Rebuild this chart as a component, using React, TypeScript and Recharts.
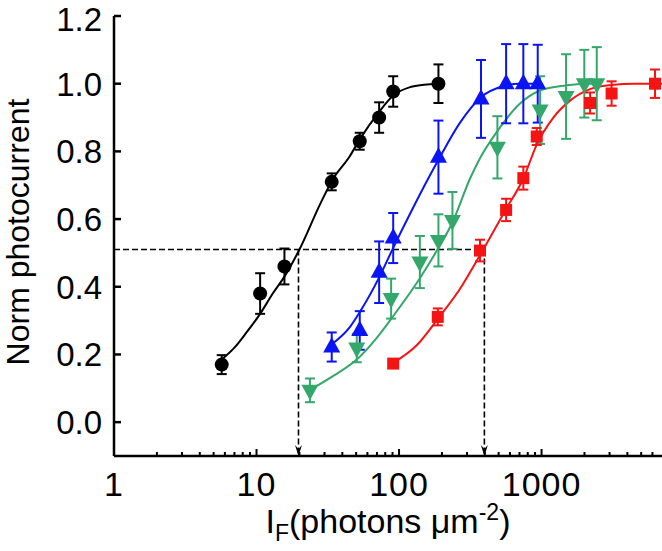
import { ComposedChart, Scatter, Line, XAxis, YAxis, ErrorBar, ReferenceLine, Label } from "recharts";

// measured points (x in photons/um2, y normalised photocurrent, sem)
const blackX = [5.7, 10.6, 15.7, 33.7, 53, 72.5, 91, 189];
const blackY = [0.17, 0.38, 0.46, 0.71, 0.83, 0.9, 0.977, 1.0];
const blackErr = [0.028, 0.06, 0.053, 0.025, 0.025, 0.045, 0.045, 0.057];

const blueX = [33.7, 53, 72.5, 91, 189, 376, 564, 745, 940];
const blueY = [0.222, 0.271, 0.443, 0.544, 0.783, 0.955, 1.0, 1.0, 1.0];
const blueErr = [0.043, 0.057, 0.091, 0.074, 0.108, 0.115, 0.117, 0.117, 0.115];

const greenX = [23.7, 50.5, 88, 140, 189, 237, 490, 977, 1486, 1995, 2440];
const greenY = [0.094, 0.219, 0.365, 0.473, 0.537, 0.596, 0.812, 0.922, 0.962, 1.0, 1.0];
const greenErr = [0.035, 0.042, 0.059, 0.077, 0.077, 0.084, 0.092, 0.1, 0.125, 0.1, 0.108];

const redX = [91, 187, 370, 564, 745, 925, 2190, 3100, 6250];
const redY = [0.173, 0.311, 0.507, 0.627, 0.721, 0.844, 0.943, 0.971, 1.0];
const redErr = [0.008, 0.025, 0.032, 0.033, 0.034, 0.025, 0.031, 0.036, 0.042];

// fitted curves
const blackFitX = [5.7, 7, 8.5, 10.6, 13, 15.7, 20, 28, 34, 45, 53, 72, 91, 120, 150, 190];
const blackFitY = [0.185, 0.22, 0.265, 0.32, 0.38, 0.43, 0.51, 0.645, 0.715, 0.785, 0.835, 0.915, 0.965, 0.99, 0.997, 1.0];

const blueFitX = [33.7, 45, 53, 73, 91, 126, 189, 268, 376, 540, 700, 940];
const blueFitY = [0.23, 0.28, 0.325, 0.43, 0.515, 0.635, 0.775, 0.885, 0.96, 0.993, 1.0, 1.0];

const greenFitX = [23.7, 35, 50.5, 70, 88, 140, 189, 237, 315, 370, 490, 700, 977, 1486, 2000, 2440];
const greenFitY = [0.095, 0.138, 0.185, 0.25, 0.305, 0.425, 0.515, 0.59, 0.72, 0.78, 0.86, 0.94, 0.98, 0.995, 1.0, 1.0];

const redFitX = [91, 133, 187, 268, 380, 564, 745, 925, 1210, 1585, 2190, 3100, 4500, 7000];
const redFitY = [0.175, 0.227, 0.305, 0.394, 0.502, 0.63, 0.72, 0.82, 0.9, 0.95, 0.984, 0.996, 1.0, 1.0];

// half-saturation guides
const halfY = 0.51;
const halfX = [19.7, 397];

const yTicks = [0, 0.2, 0.4, 0.6, 0.8, 1.0, 1.2];
const xMajor = [1, 10, 100, 1000];
const xMinor = [2, 3, 4, 5, 6, 7, 8, 9, 20, 30, 40, 50, 60, 70, 80, 90, 200, 300, 400, 500, 600, 700, 800, 900, 2000, 3000, 4000, 5000, 6000];

const BLACK = "#000000";
const BLUE = "#0a14f5";
const GREEN = "#33a86a";
const RED = "#f51414";
const FONT = "'Liberation Sans', Arial, sans-serif";

const pts = (xs: number[], ys: number[], es?: number[]) =>
  xs.map((x, i) => ({ x, y: ys[i], err: es ? es[i] : 0 }));

const circle = (p: any) => <circle cx={p.cx} cy={p.cy} r={7} fill={BLACK} />;
const triUp = (p: any) => (
  <polygon points={`${p.cx},${p.cy - 10} ${p.cx - 8.5},${p.cy + 5.5} ${p.cx + 8.5},${p.cy + 5.5}`} fill={BLUE} />
);
const triDown = (p: any) => (
  <polygon points={`${p.cx},${p.cy + 10} ${p.cx - 8.5},${p.cy - 5.5} ${p.cx + 8.5},${p.cy - 5.5}`} fill={GREEN} />
);
const square = (p: any) => <rect x={p.cx - 6} y={p.cy - 6} width={12} height={12} fill={RED} />;

const YTick = ({ x, y, payload }: any) => {
  // keep the top label inside the picture
  const shift = payload.value >= 1.2 ? 3 : 0;
  return (
    <g>
      <line x1={x} x2={x + 7} y1={y} y2={y} stroke={BLACK} strokeWidth={2.5} />
      <text x={x - 12} y={y + shift} dy="0.36em" textAnchor="end" fontSize={33} fontFamily={FONT} fill={BLACK}>
        {payload.value.toFixed(1)}
      </text>
    </g>
  );
};

const XTick = ({ x, y, payload }: any) => {
  const major = xMajor.includes(payload.value);
  return (
    <g>
      <line x1={x} x2={x} y1={y} y2={y - (major ? 7 : 4)} stroke={BLACK} strokeWidth={2} />
      {major && (
        <text x={x} y={y + 40} textAnchor="middle" fontSize={34} letterSpacing={1} fontFamily={FONT} fill={BLACK}>
          {payload.value}
        </text>
      )}
    </g>
  );
};

const arrowLine = (p: any) => (
  <g>
    <line x1={p.x1} y1={p.y1} x2={p.x2} y2={p.y2} stroke={BLACK} strokeWidth={1.6} strokeDasharray="6 3" />
    <polygon
      points={`${p.x2},${p.y2} ${p.x2 - 3.5},${p.y2 - 11} ${p.x2},${p.y2 - 7} ${p.x2 + 3.5},${p.y2 - 11}`}
      fill={BLACK}
    />
  </g>
);

export default function App() {
  return (
    <div style={{ position: "absolute", left: 0, top: 0, width: 662, height: 551, background: "#fff" }}>
      <ComposedChart width={662} height={551} margin={{ top: 16, right: 0, bottom: 0, left: 0 }}>
        <XAxis
          dataKey="x"
          type="number"
          scale="log"
          domain={[1, 7000]}
          allowDataOverflow
          ticks={[...xMajor, ...xMinor]}
          interval={0}
          tick={<XTick />}
          tickLine={false}
          tickSize={0}
          tickMargin={0}
          height={95}
          axisLine={{ stroke: BLACK, strokeWidth: 2.5 }}
        >
          <Label
            content={(props: any) => {
              const vb = props.viewBox;
              return (
                <text x={vb.x + vb.width / 2} y={vb.y + 77} textAnchor="middle" fontSize={34} fontFamily={FONT} fill={BLACK}>
                  <tspan>I</tspan>
                  <tspan dy={8} fontSize={23}>F</tspan>
                  <tspan dy={-8}>(photons μm</tspan>
                  <tspan dy={-13} fontSize={23}>-2</tspan>
                  <tspan dy={13}>)</tspan>
                </text>
              );
            }}
          />
        </XAxis>
        <YAxis
          dataKey="y"
          type="number"
          domain={[-0.1, 1.2]}
          allowDataOverflow
          ticks={yTicks}
          interval={0}
          tick={<YTick />}
          tickLine={false}
          tickSize={0}
          tickMargin={0}
          width={114}
          axisLine={{ stroke: BLACK, strokeWidth: 2.5 }}
        >
          <Label
            content={(props: any) => {
              const vb = props.viewBox;
              const cy = vb.y + vb.height / 2 - 4;
              return (
                <text x={17} y={cy} transform={`rotate(-90 17 ${cy})`} dy="0.36em" textAnchor="middle" fontSize={32} fontFamily={FONT} fill={BLACK}>
                  Norm photocurrent
                </text>
              );
            }}
          />
        </YAxis>

        <ReferenceLine
          segment={[{ x: 1, y: halfY }, { x: halfX[1], y: halfY }]}
          stroke={BLACK}
          strokeWidth={1.6}
          strokeDasharray="6 3"
        />
        {halfX.map((hx) => (
          <ReferenceLine key={hx} segment={[{ x: hx, y: halfY }, { x: hx, y: -0.1 }]} shape={arrowLine} />
        ))}

        <Line data={pts(blackFitX, blackFitY)} dataKey="y" type="monotone" stroke={BLACK} strokeWidth={2} dot={false} isAnimationActive={false} />
        <Line data={pts(blueFitX, blueFitY)} dataKey="y" type="monotone" stroke={BLUE} strokeWidth={2} dot={false} isAnimationActive={false} />
        <Line data={pts(greenFitX, greenFitY)} dataKey="y" type="monotone" stroke={GREEN} strokeWidth={2} dot={false} isAnimationActive={false} />
        <Line data={pts(redFitX, redFitY)} dataKey="y" type="monotone" stroke={RED} strokeWidth={2} dot={false} isAnimationActive={false} />

        <Scatter data={pts(blackX, blackY, blackErr)} dataKey="y" shape={circle} isAnimationActive={false}>
          <ErrorBar dataKey="err" direction="y" width={5} stroke={BLACK} strokeWidth={2} isAnimationActive={false} />
        </Scatter>
        <Scatter data={pts(blueX, blueY, blueErr)} dataKey="y" shape={triUp} isAnimationActive={false}>
          <ErrorBar dataKey="err" direction="y" width={5} stroke={BLUE} strokeWidth={2} isAnimationActive={false} />
        </Scatter>
        <Scatter data={pts(greenX, greenY, greenErr)} dataKey="y" shape={triDown} isAnimationActive={false}>
          <ErrorBar dataKey="err" direction="y" width={5} stroke={GREEN} strokeWidth={2} isAnimationActive={false} />
        </Scatter>
        <Scatter data={pts(redX, redY, redErr)} dataKey="y" shape={square} isAnimationActive={false}>
          <ErrorBar dataKey="err" direction="y" width={5} stroke={RED} strokeWidth={2} isAnimationActive={false} />
        </Scatter>
      </ComposedChart>
    </div>
  );
}
